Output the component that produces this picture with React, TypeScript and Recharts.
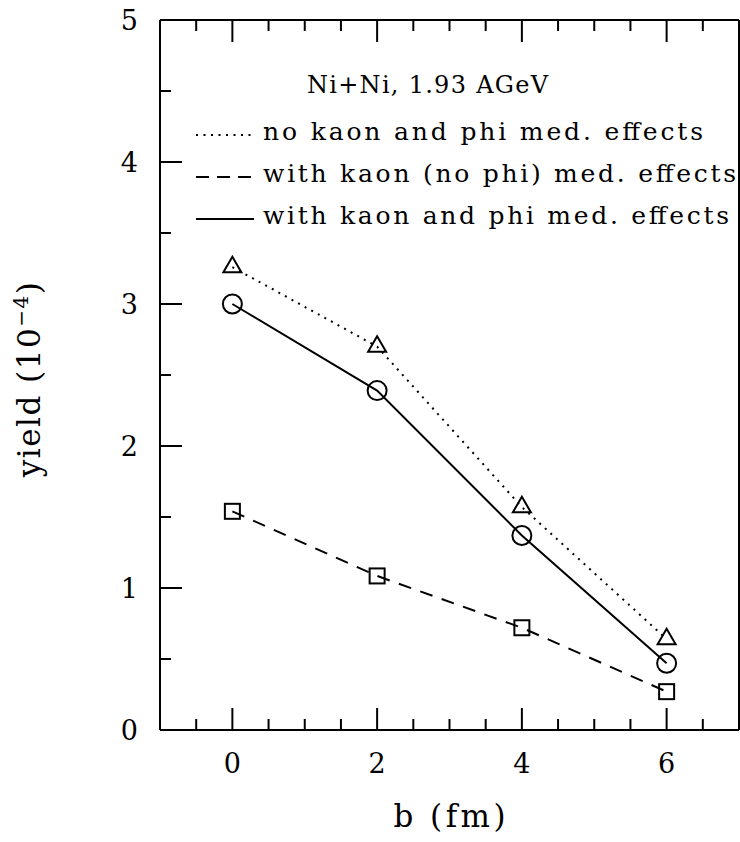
import { LineChart, Line, XAxis, YAxis } from "recharts";

// impact parameter b (fm) and phi yields in units of 1e-4
const impactParams = [0, 2, 4, 6];
const noMedium = [3.26, 2.7, 1.57, 0.64];
const kaonOnly = [1.54, 1.085, 0.72, 0.27];
const kaonPhi = [3.0, 2.39, 1.37, 0.47];

const xTicks = [-0.5, 0, 0.5, 1, 1.5, 2, 2.5, 3, 3.5, 4, 4.5, 5, 5.5, 6, 6.5];
const xLabels = [0, 2, 4, 6];
const yTicks = [0, 0.5, 1, 1.5, 2, 2.5, 3, 3.5, 4, 4.5, 5];
const yLabels = [0, 1, 2, 3, 4, 5];

const FONT = "'DejaVu Serif', serif";
const INK = "#000";

const data = impactParams.map((b, i) => ({
  b,
  noMedium: noMedium[i],
  kaonOnly: kaonOnly[i],
  kaonPhi: kaonPhi[i],
}));

const legendRows = [
  { text: "no kaon and phi med. effects", dash: "2 5.5", len: 440 },
  { text: "with kaon (no phi) med. effects", dash: "13 8", len: 473 },
  { text: "with kaon and phi med. effects", dash: undefined, len: 466 },
];

const majorLen = 22;
const minorLen = 11;

function BottomTick({ x, y, payload }: any) {
  const v = payload.value;
  const major = xLabels.includes(v);
  return (
    <g>
      <line x1={x} x2={x} y1={y} y2={y - (major ? majorLen : minorLen)} stroke={INK} strokeWidth={2} />
      {major && (
        <text x={x} y={y + 43} textAnchor="middle" fontSize={27} fontFamily={FONT} fill={INK}>
          {v}
        </text>
      )}
    </g>
  );
}

function TopTick({ x, y, payload }: any) {
  const major = xLabels.includes(payload.value);
  return <line x1={x} x2={x} y1={y} y2={y + (major ? majorLen : minorLen)} stroke={INK} strokeWidth={2} />;
}

function LeftTick({ x, y, payload }: any) {
  const v = payload.value;
  const major = yLabels.includes(v);
  return (
    <g>
      <line x1={x} x2={x + (major ? majorLen : minorLen)} y1={y} y2={y} stroke={INK} strokeWidth={2} />
      {major && (
        <text x={x - 22} y={y + 10} textAnchor="end" fontSize={27} fontFamily={FONT} fill={INK}>
          {v}
        </text>
      )}
    </g>
  );
}

function RightTick({ x, y, payload }: any) {
  const major = yLabels.includes(payload.value);
  return <line x1={x} x2={x - (major ? majorLen : minorLen)} y1={y} y2={y} stroke={INK} strokeWidth={2} />;
}

function Triangle(props: any) {
  const { cx, cy, index } = props;
  if (cx == null || cy == null) return <g key={`t-${index}`} />;
  const half = 9;
  const h = 15.6;
  const pts = `${cx},${cy - (2 * h) / 3} ${cx + half},${cy + h / 3} ${cx - half},${cy + h / 3}`;
  return <polygon key={`t-${index}`} points={pts} fill="none" stroke={INK} strokeWidth={2} />;
}

function Circle(props: any) {
  const { cx, cy, index } = props;
  if (cx == null || cy == null) return <g key={`c-${index}`} />;
  return <circle key={`c-${index}`} cx={cx} cy={cy} r={9.5} fill="none" stroke={INK} strokeWidth={2} />;
}

function Square(props: any) {
  const { cx, cy, index } = props;
  if (cx == null || cy == null) return <g key={`s-${index}`} />;
  return (
    <rect key={`s-${index}`} x={cx - 7.5} y={cy - 7.5} width={15} height={15} fill="none" stroke={INK} strokeWidth={2} />
  );
}

function XTitle({ viewBox }: any) {
  const cx = viewBox ? viewBox.x + viewBox.width / 2 : 450;
  return (
    <text x={cx} y={827} textAnchor="middle" fontSize={31} fontFamily={FONT} fill={INK} textLength={112} lengthAdjust="spacing">
      b (fm)
    </text>
  );
}

function YTitle() {
  return (
    <text
      x={0}
      y={0}
      transform="translate(40,379) rotate(-90)"
      textAnchor="middle"
      fontSize={31}
      fontFamily={FONT}
      fill={INK}
      letterSpacing={1.5}
    >
      yield (10
      <tspan fontSize={20} dy={-12}>−4</tspan>
      <tspan dy={12}>)</tspan>
    </text>
  );
}

function LegendBox() {
  return (
    <svg width={740} height={842} style={{ position: "absolute", left: 0, top: 0, pointerEvents: "none" }}>
      <text x={307} y={93} fontSize={24} fontFamily={FONT} fill={INK} textLength={241} lengthAdjust="spacing">
        Ni+Ni, 1.93 AGeV
      </text>
      {legendRows.map((row, i) => {
        const base = 140 + i * 42;
        return (
          <g key={row.text}>
            <line x1={196} x2={254} y1={base - 5} y2={base - 5} stroke={INK} strokeWidth={2} strokeDasharray={row.dash} />
            <text x={263} y={base} fontSize={25} fontFamily={FONT} fill={INK} textLength={row.len} lengthAdjust="spacing">
              {row.text}
            </text>
          </g>
        );
      })}
    </svg>
  );
}

export default function App() {
  return (
    <div style={{ position: "absolute", left: 0, top: 0, width: 740, height: 842, background: "#fff" }}>
      <LineChart width={740} height={842} data={data} margin={{ top: 0, right: 0, bottom: 0, left: 0 }}>
        <XAxis
          dataKey="b"
          type="number"
          domain={[-1, 7]}
          ticks={xTicks}
          interval={0}
          tickSize={0}
          tickMargin={0}
          height={112}
          axisLine={{ stroke: INK, strokeWidth: 2 }}
          tickLine={false}
          tick={<BottomTick />}
          label={(p: any) => <XTitle {...p} />}
        />
        <XAxis
          xAxisId="top"
          orientation="top"
          dataKey="b"
          type="number"
          domain={[-1, 7]}
          ticks={xTicks}
          interval={0}
          tickSize={0}
          tickMargin={0}
          height={20}
          axisLine={{ stroke: INK, strokeWidth: 2 }}
          tickLine={false}
          tick={<TopTick />}
        />
        <YAxis
          type="number"
          domain={[0, 5]}
          ticks={yTicks}
          interval={0}
          tickSize={0}
          tickMargin={0}
          width={160}
          axisLine={{ stroke: INK, strokeWidth: 2 }}
          tickLine={false}
          tick={<LeftTick />}
          label={() => <YTitle />}
        />
        <YAxis
          yAxisId="right"
          orientation="right"
          type="number"
          domain={[0, 5]}
          ticks={yTicks}
          interval={0}
          tickSize={0}
          tickMargin={0}
          width={1}
          axisLine={{ stroke: INK, strokeWidth: 2 }}
          tickLine={false}
          tick={<RightTick />}
        />
        <Line
          type="linear"
          dataKey="noMedium"
          stroke={INK}
          strokeWidth={2}
          strokeDasharray="2 5.5"
          dot={(p: any) => <Triangle {...p} key={`t-${p.index}`} />}
          activeDot={false}
          isAnimationActive={false}
        />
        <Line
          type="linear"
          dataKey="kaonOnly"
          stroke={INK}
          strokeWidth={2}
          strokeDasharray="13 9.7"
          dot={(p: any) => <Square {...p} key={`s-${p.index}`} />}
          activeDot={false}
          isAnimationActive={false}
        />
        <Line
          type="linear"
          dataKey="kaonPhi"
          stroke={INK}
          strokeWidth={2}
          dot={(p: any) => <Circle {...p} key={`c-${p.index}`} />}
          activeDot={false}
          isAnimationActive={false}
        />
      </LineChart>
      <LegendBox />
    </div>
  );
}
